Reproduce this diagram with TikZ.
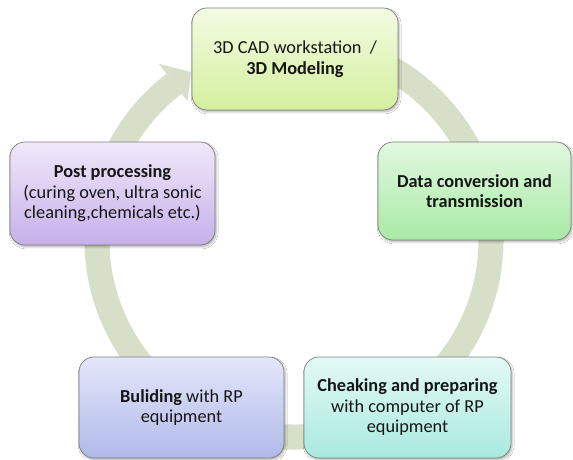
\documentclass[tikz,border=0pt]{standalone}
\usepackage{fontspec}
\setmainfont{Carlito}
\usetikzlibrary{calc,shadows.blur}

\definecolor{ringcol}{RGB}{215,223,201}
\definecolor{edgecol}{RGB}{125,125,125}
\definecolor{txtcol}{RGB}{22,22,22}

\definecolor{cadtop}{RGB}{243,251,226}
\definecolor{cadbot}{RGB}{212,240,158}
\definecolor{datatop}{RGB}{226,248,224}
\definecolor{databot}{RGB}{168,234,166}
\definecolor{chktop}{RGB}{228,249,246}
\definecolor{chkbot}{RGB}{168,234,222}
\definecolor{bldtop}{RGB}{228,230,249}
\definecolor{bldbot}{RGB}{176,186,234}
\definecolor{posttop}{RGB}{240,232,250}
\definecolor{postbot}{RGB}{198,176,234}

\tikzset{
  stagebox/.style={
    draw=edgecol, line width=0.7pt, rounded corners=15pt,
    align=center, inner sep=0pt, text=txtcol,
    font=\fontsize{18.3}{20.5}\selectfont,
    blur shadow={shadow xshift=1.2pt, shadow yshift=-2pt,
                 shadow blur steps=6, shadow opacity=30}},
  ringband/.style={draw=ringcol, line width=25pt}
}

\begin{document}
\begin{tikzpicture}[x=1pt,y=1pt]
  \useasboundingbox (0,0) rectangle (573,459);
  \fill[white] (0,0) rectangle (573,459);

  % centre of the cycle ring
  \coordinate (c) at (294,219);

  % the ring with its arrow head ending at the first stage
  \draw[ringband] ($(c)+(80:197)$) arc[start angle=80, end angle=-232.5, radius=197];
  \coordinate (headin)  at ($(c)+(127.5:175)$);
  \coordinate (headout) at ($(c)+(127.5:222)$);
  \coordinate (headtip) at ($(c)+(121.5:197)$);
  \fill[ringcol] (headin) -- (headout) -- (headtip) -- cycle;

  % the five stages
  \node[stagebox, top color=cadtop, bottom color=cadbot,
        minimum width=206pt, minimum height=102pt] (cad) at (295,400)
        {3D CAD workstation~~/\\\textbf{3D Modeling}};
  \node[stagebox, top color=datatop, bottom color=databot,
        minimum width=193pt, minimum height=98pt] (data) at (474.5,268)
        {\textbf{Data conversion and}\\\textbf{transmission}};
  \node[stagebox, top color=chktop, bottom color=chkbot,
        minimum width=207pt, minimum height=101pt] (check) at (407.5,51.5)
        {\textbf{Cheaking and preparing}\\with computer of RP\\equipment};
  \node[stagebox, top color=bldtop, bottom color=bldbot,
        minimum width=205pt, minimum height=101pt] (build) at (181.5,51.5)
        {\textbf{Buliding} with RP\\equipment};
  \node[stagebox, top color=posttop, bottom color=postbot,
        minimum width=205pt, minimum height=103pt] (post) at (112.5,265.5)
        {\textbf{Post processing}\\(curing oven, ultra sonic\\cleaning,chemicals etc.)};
\end{tikzpicture}
\end{document}
